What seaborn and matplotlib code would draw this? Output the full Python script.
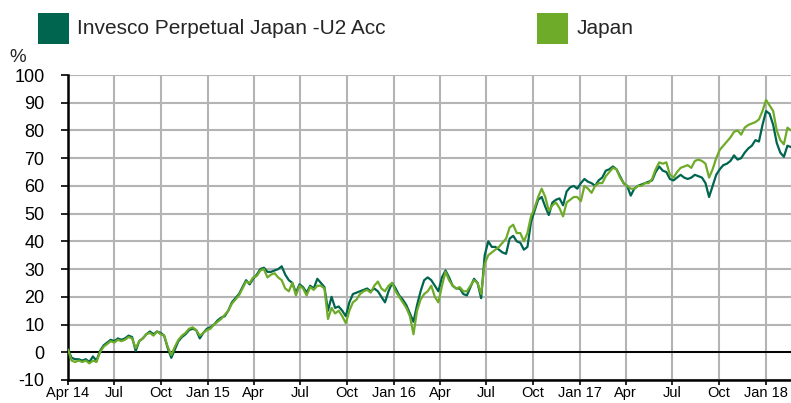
import matplotlib
matplotlib.use("Agg")
import matplotlib.pyplot as plt
import matplotlib.dates as mdates
import matplotlib.patches as mpatches
import numpy as np
import pandas as pd
import seaborn as sns

# ---- data (weekly, cumulative % performance) ----
start_date = "2014-04-01"
n_weeks = 204

fund = [1, -2, -2.5, -2.5, -3, -2.5, -3.5, -1.5, -3, 0.5,
        2.5, 3.5, 4.5, 4, 5, 4.5, 5, 6, 5.5, 0.5,
        4, 5, 6.5, 7.5, 6.5, 7.5, 7, 6, 1.5, -2,
        1, 4, 5.5, 6.5, 8, 8.5, 8, 5, 7, 8.5,
        9, 10, 11.5, 12.5, 13, 15, 18, 19.5, 21, 23.5,
        26, 24.5, 26.5, 28, 30, 30.5, 29, 29, 29.5, 30,
        31, 28, 26, 25, 21.5, 24.5, 23.5, 21.5, 24, 23,
        26.5, 25, 23.5, 15, 20, 16, 16.5, 15, 13, 18,
        21, 21.5, 22, 22.5, 23, 22, 23, 22, 20, 18,
        22, 25, 23, 20.5, 19, 17, 14, 11, 17, 22,
        26, 27, 26, 24, 22, 27, 29.5, 27, 24, 23,
        23, 21, 20.5, 23.5, 26.5, 25, 19.5, 35, 40, 38,
        38, 37, 36, 35.5, 41, 42, 40, 39.5, 37, 38,
        47, 51, 55, 56, 52.5, 49.5, 54, 55, 55.5, 53,
        58, 59.5, 60, 59, 61, 62.5, 61.5, 61, 60, 62,
        63, 65.5, 66, 67, 66, 63.5, 61, 60, 56.5, 59,
        60, 60.5, 61, 61.5, 62, 65, 67, 65.5, 65, 62.5,
        62, 63, 64, 63, 62.5, 63, 64, 63.5, 63, 61,
        56, 60, 64, 66, 67.5, 68, 69, 71, 69.5, 70,
        72, 73.5, 74.5, 76.5, 76, 82, 87, 86, 82, 75.5,
        72, 70.5, 74.5, 74]

japan = [1, -3, -3.5, -3, -3.5, -3, -4, -3, -3.5, 0,
         2, 3, 4, 3.5, 4.5, 4, 4.5, 5.5, 5, 1.5,
         4, 5, 6.5, 7, 6, 7.5, 6.5, 6, 2, -1,
         2, 4.5, 6, 7, 8.5, 9, 8, 6, 7, 8,
         8.5, 10, 11, 12, 13.5, 15, 17.5, 19, 20.5, 23,
         25.5, 25, 27, 27.5, 29.5, 30, 27, 28, 28.5, 27,
         26, 23, 22, 25, 20.5, 24, 23, 20.5, 23.5, 22.5,
         24, 24, 23, 12, 16, 14, 15, 13, 10.5, 15,
         18, 19, 21, 22, 22.5, 21.5, 24, 25.5, 23, 22,
         24, 25, 22, 20, 18, 16, 13, 6.5, 15, 19,
         21, 22, 24, 20, 18, 24, 29, 26, 24, 23,
         23.5, 22, 22, 24, 26, 25, 21, 32, 35, 36,
         37, 38, 39.5, 41, 45, 46, 43, 43, 40, 43,
         49, 52, 56, 59, 56, 51, 53, 54, 52, 49,
         54, 55, 56, 56, 54.5, 60, 59, 57.5, 60, 61,
         61, 63.5, 65, 66.5, 66, 63, 61, 60, 59, 59,
         60, 60, 61, 61, 62.5, 66, 68.5, 68, 68.5, 64,
         63, 65, 66.5, 67, 67.5, 66.5, 69, 69.5, 69, 68,
         63, 66, 70, 73, 74.5, 76, 77.5, 79.5, 80, 78.5,
         81, 82, 82.5, 83, 84, 87, 91, 89, 87, 80,
         76.5, 75, 81, 80]

series_names = ["Invesco Perpetual Japan -U2 Acc", "Japan"]
colors = ["#00654f", "#6eab28"]

y_ticks = list(range(-10, 101, 10))
tick_dates = pd.date_range("2014-04-01", "2018-01-01", freq="QS")
tick_labels = ["Apr 14", "Jul", "Oct", "Jan 15", "Apr", "Jul", "Oct", "Jan 16",
               "Apr", "Jul", "Oct", "Jan 17", "Apr", "Jul", "Oct", "Jan 18"]

dates = pd.date_range(start_date, periods=n_weeks, freq="7D")
df = pd.DataFrame({
    "date": np.concatenate([dates, dates]),
    "value": np.concatenate([fund, japan]),
    "series": [series_names[0]] * n_weeks + [series_names[1]] * n_weeks,
})

sns.set_style("white")
plt.rcParams["font.family"] = ["Liberation Sans", "DejaVu Sans"]

fig = plt.figure(figsize=(7.91, 4.03), dpi=100)
ax = fig.add_axes([68 / 791, 1 - 380 / 403, 1 - 68 / 791, (380 - 75) / 403])

sns.lineplot(data=df, x="date", y="value", hue="series", palette=colors,
             hue_order=series_names, linewidth=1.6, ax=ax, legend=False,
             zorder=3)

ax.set_xlim(dates[0], dates[-1])
ax.set_ylim(-10, 100)
ax.set_yticks(y_ticks)
ax.set_yticklabels([str(v) for v in y_ticks], fontsize=13)
ax.set_xticks(tick_dates)
ax.set_xticklabels(tick_labels, fontsize=10.5)

ax.grid(True, color="#b4b4b4", linewidth=1.5, zorder=0)
ax.axhline(0, color="black", linewidth=1.4, zorder=2)

for s in ["top", "right"]:
    ax.spines[s].set_visible(False)
ax.spines["left"].set_color("black")
ax.spines["left"].set_linewidth(1.8)
ax.spines["bottom"].set_color("black")
ax.spines["bottom"].set_linewidth(1.8)
ax.tick_params(axis="y", length=5, width=1.2, pad=12, colors="black", direction="out", left=True)
ax.tick_params(axis="x", length=3.5, width=1.2, pad=1, colors="black", direction="out", bottom=True)
ax.set_xlabel("")
ax.set_ylabel("")

fig.text(9 / 791, 1 - 62 / 403, "%", fontsize=13.5, ha="left", va="baseline")

# legend
for i, (name, col, x0, tx) in enumerate(zip(series_names, colors, [38, 537], [77, 577])):
    fig.patches.append(mpatches.Rectangle((x0 / 791, 1 - 44 / 403), 31 / 791, 31 / 403,
                                          transform=fig.transFigure, facecolor=col,
                                          edgecolor="none"))
    fig.text(tx / 791, 1 - 29 / 403, name, fontsize=15, ha="left", va="center")

fig.savefig("out.png", dpi=100)
